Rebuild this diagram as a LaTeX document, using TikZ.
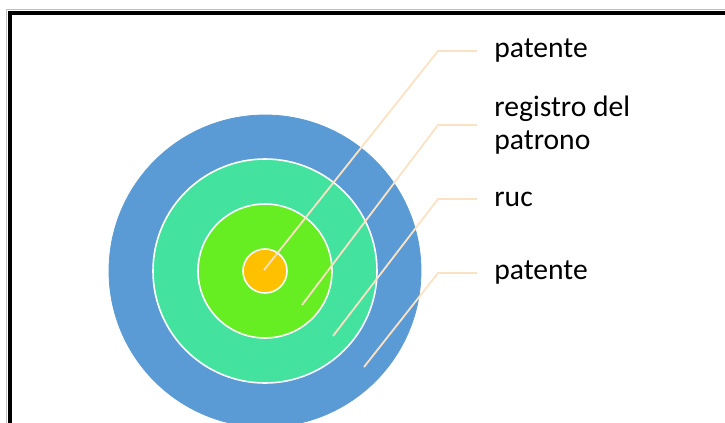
\documentclass[tikz,border=0pt]{standalone}
\usepackage{fontspec}
\setmainfont{Carlito}
\usetikzlibrary{calc}
\definecolor{ringblue}{HTML}{5B9BD5}
\definecolor{ringteal}{HTML}{43E29E}
\definecolor{ringlime}{HTML}{66EE22}
\definecolor{ringgold}{HTML}{FFC000}
\definecolor{leadcol}{HTML}{FCE2C4}
\tikzset{
  ring/.style={draw=white, line width=0.8pt},
  leader/.style={draw=leadcol, line width=0.9pt},
  lbl/.style={anchor=west, inner xsep=8.5pt, inner ysep=0pt, align=left,
    font=\fontsize{14.8}{16.5}\selectfont}
}

\begin{document}
\begin{tikzpicture}[x=0.5pt, y=-0.5pt]
\useasboundingbox (0,0) rectangle (725,423);
\clip (0,0) rectangle (725,423);
\draw[black!25, line width=0.4pt] (6.5,9.5) rectangle (760,460);
\draw[line width=2pt] (10,13) rectangle (760,460);
\coordinate (c) at (265,271);
\filldraw[fill=ringblue, draw=ringblue] (c) circle (156);
\filldraw[ring, fill=ringteal] (c) circle (112);
\filldraw[ring, fill=ringlime] (c) circle (67);
\filldraw[ring, fill=ringgold] (c) circle (22);
% labels
\node[lbl] (t1) at (477,51) {patente};
\node[lbl] (t2) at (477,125) {registro del\\patrono};
\node[lbl] (t3) at (477,199) {ruc};
\node[lbl] (t4) at (477,273) {patente};
\coordinate (e1) at (264,270);
\coordinate (e2) at (302,305);
\coordinate (e3) at (333,336);
\coordinate (e4) at (364,367);
\foreach \i in {1,...,4}
  \draw[leader] (t\i.west) -- ++(-39,0) -- (e\i);
\end{tikzpicture}
\end{document}
